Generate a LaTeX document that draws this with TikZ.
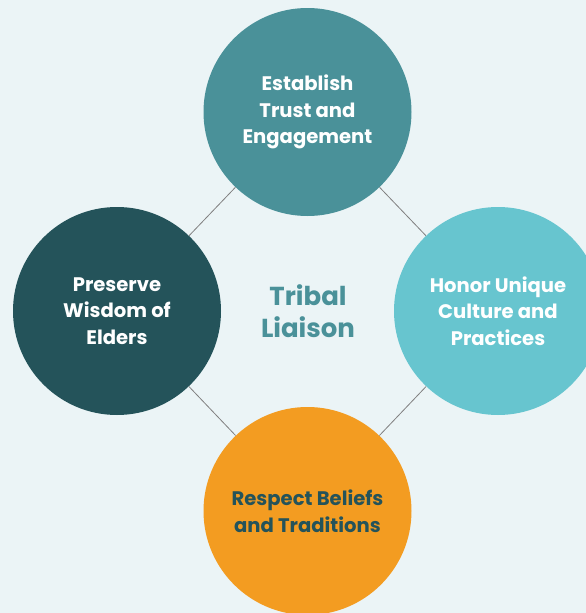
\documentclass[tikz,border=0pt]{standalone}
\usepackage{fontspec}
\setmainfont{Poppins}
\definecolor{bgc}{HTML}{EBF4F6}
\definecolor{tealmid}{HTML}{4A9199}
\definecolor{tealdark}{HTML}{24535A}
\definecolor{teallight}{HTML}{67C5CF}
\definecolor{orangec}{HTML}{F39C21}
\definecolor{linec}{HTML}{808080}
\tikzset{
  bubble/.style={circle, minimum size=208pt, inner sep=0pt, align=center,
    font=\bfseries\fontsize{19.6}{26.5}\selectfont},
  link/.style={draw=linec, line width=0.8pt}
}
\begin{document}
\begin{tikzpicture}[x=1pt,y=-1pt]
\fill[bgc] (0,0) rectangle (586,613);
\useasboundingbox (0,0) rectangle (586,613);
\node[bubble, fill=tealmid, text=white] (top) at (307.5,112) {Establish\\Trust and\\Engagement};
\node[bubble, fill=tealdark, text=white] (left) at (117,311) {Preserve\\Wisdom of\\Elders};
\node[bubble, fill=teallight, text=white] (right) at (498,311) {Honor Unique\\Culture and\\Practices};
\node[bubble, fill=orangec, text=tealdark] (bottom) at (307.5,511) {Respect Beliefs\\and Traditions};
\node[align=center, text=tealmid, font=\bfseries\fontsize{26}{32}\selectfont] (center) at (308,311) {Tribal\\Liaison};
\draw[link] (top) -- (left);
\draw[link] (top) -- (right);
\draw[link] (right) -- (bottom);
\draw[link] (bottom) -- (left);
\end{tikzpicture}
\end{document}
